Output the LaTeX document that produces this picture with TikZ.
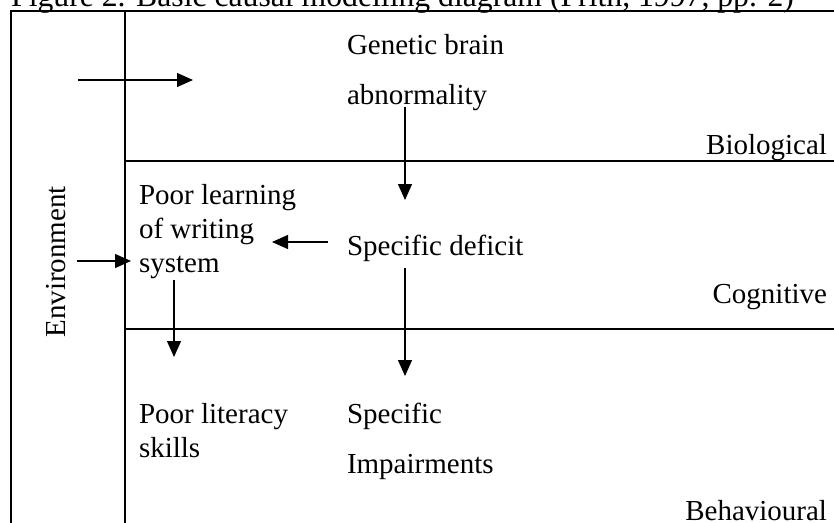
\documentclass[tikz,border=0pt]{standalone}
\usepackage{fontspec}
\setmainfont{Liberation Serif}
\usetikzlibrary{arrows.meta}
\newcommand{\bodyfont}{\fontsize{29}{34}\selectfont}
\newcommand{\titlefont}{\fontsize{31.7}{36}\selectfont}
\tikzset{
  frame/.style={line width=2pt, line cap=rect},
  conn/.style={line width=1.3pt, -{Triangle[length=16pt,width=14pt]}},
  txt/.style={anchor=base west, inner sep=0pt, outer sep=0pt, font=\bodyfont},
  lvl/.style={anchor=base east, inner sep=0pt, outer sep=0pt, font=\bodyfont},
}
\begin{document}
\begin{tikzpicture}[x=1pt, y=-1pt]
\useasboundingbox (0,0) rectangle (834,522);
\clip (0,0) rectangle (834,522);
% title
\node[anchor=base west, inner sep=0pt, font=\titlefont] (title) at (11,6.5)
  {Figure 2. Basic causal modelling diagram (Frith, 1997, pp. 2)};
% frame
\draw[frame] (11,540) -- (11,11) -- (850,11);
\draw[frame] (125,11) -- (125,540);
\draw[frame] (125,161) -- (850,161);
\draw[frame] (125,329) -- (850,329);
% texts
\node[txt] (gen1) at (347,54) {Genetic brain};
\node[txt] (gen2) at (347,104) {abnormality};
\node[lvl] (bio) at (827,154) {Biological};
\node[txt] (pl1) at (139,204) {Poor learning};
\node[txt] (pl2) at (139,238) {of writing};
\node[txt] (pl3) at (139,272) {system};
\node[txt] (sd) at (347,255) {Specific deficit};
\node[lvl] (cog) at (827,303) {Cognitive};
\node[txt] (lit1) at (139,423) {Poor literacy};
\node[txt] (lit2) at (139,457) {skills};
\node[txt] (si1) at (347,423) {Specific};
\node[txt] (si2) at (347,473) {Impairments};
\node[lvl] (beh) at (827,520) {Behavioural};
\node[anchor=base, inner sep=0pt, font=\bodyfont, rotate=90] (env) at (65,262) {Environment};
% connector end points
\coordinate (a1s) at (78,80);   \coordinate (a1e) at (193,80);
\coordinate (a2s) at (405,107); \coordinate (a2e) at (405,200);
\coordinate (a3s) at (328,242); \coordinate (a3e) at (272,242);
\coordinate (a4s) at (77,261);  \coordinate (a4e) at (131,261);
\coordinate (a5s) at (174,280); \coordinate (a5e) at (174,357);
\coordinate (a6s) at (405,268); \coordinate (a6e) at (405,376);
% connectors
\draw[conn] (a1s) -- (a1e);
\draw[conn] (a2s) -- (a2e);
\draw[conn] (a3s) -- (a3e);
\draw[conn] (a4s) -- (a4e);
\draw[conn] (a5s) -- (a5e);
\draw[conn] (a6s) -- (a6e);
\end{tikzpicture}
\end{document}
